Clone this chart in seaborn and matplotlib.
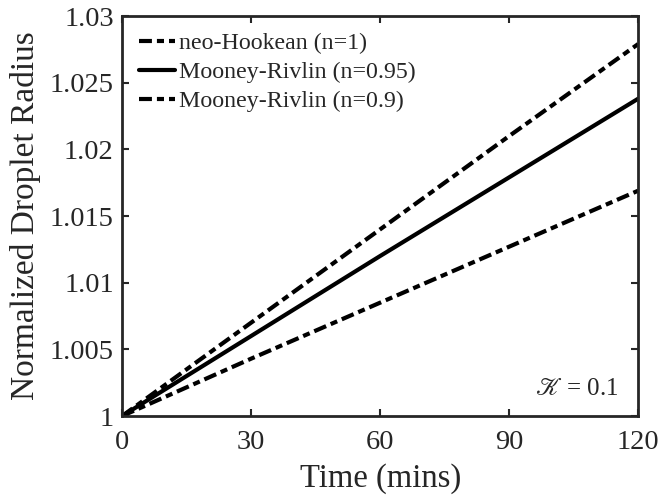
import numpy as np
import pandas as pd
import seaborn as sns
import matplotlib
matplotlib.use("Agg")
import matplotlib.pyplot as plt

time_min = [0, 30, 60, 90, 120]
neo_hookean = [1.0, 1.0070, 1.0140, 1.0210, 1.0279]
mooney_095 = [1.0, 1.0060, 1.0120, 1.0179, 1.0238]
mooney_090 = [1.0, 1.0043, 1.0085, 1.0127, 1.0169]
labels = ["neo-Hookean (n=1)", "Mooney-Rivlin (n=0.95)", "Mooney-Rivlin (n=0.9)"]

sns.set_theme(style="ticks")
plt.rcParams["font.family"] = ["Liberation Serif", "DejaVu Serif"]
plt.rcParams["mathtext.fontset"] = "stix"

df = pd.DataFrame({
    "t": time_min * 3,
    "r": neo_hookean + mooney_095 + mooney_090,
    "model": [labels[0]] * 5 + [labels[1]] * 5 + [labels[2]] * 5,
})

fig, ax = plt.subplots(figsize=(6.6, 5), dpi=100)
dash_dot = (3.1, 1.2, 1.7, 1.2)
sns.lineplot(data=df, x="t", y="r", hue="model", style="model",
             palette=["black"] * 3, dashes=[dash_dot, "", dash_dot],
             linewidth=3, ax=ax)

ax.set_xlim(0, 120)
ax.set_ylim(1, 1.03)
ax.set_xticks([0, 30, 60, 90, 120])
ax.set_yticks([1, 1.005, 1.01, 1.015, 1.02, 1.025, 1.03])
ax.set_yticklabels(["1", "1.005", "1.01", "1.015", "1.02", "1.025", "1.03"])
ax.set_xlabel("Time (mins)", fontsize=23.5, labelpad=6, color="#262626")
ax.set_ylabel("Normalized Droplet Radius", fontsize=24, labelpad=6, color="#262626")
ax.tick_params(direction="in", length=5, width=1.5, labelsize=20.5,
               top=True, right=True, colors="#262626")
ax.tick_params(axis="x", pad=10)
ax.tick_params(axis="y", pad=6)
for sp in ax.spines.values():
    sp.set_linewidth(2)
    sp.set_color("#262626")

leg = ax.legend(loc="upper left", frameon=False, fontsize=17.2,
                handlelength=1.5, handletextpad=0.2, labelspacing=0.3,
                borderaxespad=0.3)
ax.text(0.961, 0.04, r"$\mathscr{K}$ = 0.1", transform=ax.transAxes,
        ha="right", va="bottom", fontsize=18)

fig.subplots_adjust(left=0.185, right=0.967, top=0.968, bottom=0.168)
fig.savefig("out.png", dpi=100)
